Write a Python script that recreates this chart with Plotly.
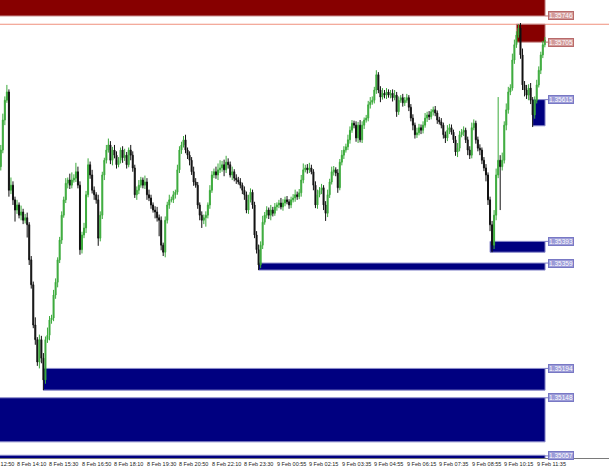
import plotly.graph_objects as go
import pandas as pd

# ---------------- data ----------------
closes = [
    1.35536, 1.35583, 1.35614, 1.35627, 1.35473, 1.35481, 1.35458, 1.35442, 1.35450, 1.35434,
    1.35439, 1.35426, 1.35430, 1.35419, 1.35364, 1.35325, 1.35262, 1.35239, 1.35204, 1.35239,
    1.35210, 1.35176, 1.35239, 1.35246, 1.35270, 1.35273, 1.35309, 1.35329, 1.35364, 1.35395,
    1.35434, 1.35458, 1.35484, 1.35489, 1.35481, 1.35489, 1.35492, 1.35502, 1.35481, 1.35380,
    1.35403, 1.35414, 1.35466, 1.35513, 1.35497, 1.35473, 1.35466, 1.35458, 1.35398, 1.35434,
    1.35497, 1.35520, 1.35536, 1.35544, 1.35520, 1.35536, 1.35528, 1.35513, 1.35520, 1.35536,
    1.35524, 1.35528, 1.35513, 1.35536, 1.35528, 1.35508, 1.35466, 1.35473, 1.35481, 1.35489,
    1.35481, 1.35486, 1.35466, 1.35461, 1.35450, 1.35442, 1.35439, 1.35430, 1.35426, 1.35387,
    1.35376, 1.35426, 1.35450, 1.35458, 1.35458, 1.35466, 1.35470, 1.35505, 1.35536, 1.35544,
    1.35552, 1.35536, 1.35528, 1.35520, 1.35502, 1.35486, 1.35481, 1.35450, 1.35434, 1.35426,
    1.35430, 1.35434, 1.35450, 1.35473, 1.35497, 1.35502, 1.35497, 1.35505, 1.35508, 1.35513,
    1.35505, 1.35517, 1.35513, 1.35497, 1.35502, 1.35492, 1.35489, 1.35486, 1.35481, 1.35473,
    1.35466, 1.35442, 1.35458, 1.35470, 1.35450, 1.35403, 1.35380, 1.35356, 1.35387, 1.35423,
    1.35434, 1.35442, 1.35434, 1.35442, 1.35437, 1.35447, 1.35450, 1.35453, 1.35447, 1.35453,
    1.35458, 1.35455, 1.35450, 1.35458, 1.35461, 1.35466, 1.35463, 1.35469, 1.35489, 1.35505,
    1.35508, 1.35505, 1.35508, 1.35502, 1.35481, 1.35450, 1.35466, 1.35473, 1.35477, 1.35450,
    1.35437, 1.35466, 1.35486, 1.35502, 1.35505, 1.35500, 1.35477, 1.35517, 1.35528, 1.35536,
    1.35541, 1.35552, 1.35567, 1.35578, 1.35575, 1.35555, 1.35575, 1.35552, 1.35575, 1.35583,
    1.35586, 1.35607, 1.35611, 1.35614, 1.35630, 1.35654, 1.35630, 1.35619, 1.35625, 1.35622,
    1.35627, 1.35622, 1.35625, 1.35618, 1.35622, 1.35596, 1.35614, 1.35618, 1.35610, 1.35614,
    1.35618, 1.35603, 1.35586, 1.35575, 1.35560, 1.35563, 1.35571, 1.35567, 1.35575, 1.35586,
    1.35591, 1.35588, 1.35596, 1.35599, 1.35594, 1.35583, 1.35580, 1.35575, 1.35560, 1.35555,
    1.35567, 1.35571, 1.35564, 1.35552, 1.35533, 1.35539, 1.35560, 1.35564, 1.35567, 1.35552,
    1.35536, 1.35528, 1.35571, 1.35578, 1.35552, 1.35539, 1.35536, 1.35520, 1.35508, 1.35497,
    1.35458, 1.35419, 1.35387, 1.35434, 1.35497, 1.35520, 1.35510, 1.35520, 1.35575, 1.35599,
    1.35627, 1.35633, 1.35677, 1.35701, 1.35716, 1.35727, 1.35685, 1.35638, 1.35630, 1.35622,
    1.35633, 1.35614, 1.35591, 1.35614, 1.35638, 1.35661, 1.35685, 1.35701, 1.35708,
]
first_open = 1.35510

# wick lengths in points (1 point = 0.00001)
upper_wick_pts = [
    8, 10, 6, 11, 4, 12, 6, 5, 8, 4, 10, 5, 6, 8, 4, 6, 5, 12, 4, 8,
    6, 8, 5, 12, 6, 5, 8, 6, 4, 5, 6, 5, 8, 4, 10, 12, 6, 14, 8, 6,
    5, 8, 6, 10, 5, 8, 6, 4, 8, 6, 5, 4, 8, 10, 6, 5, 8, 6, 5, 4,
    6, 10, 5, 4, 8, 6, 5, 6, 8, 5, 4, 10, 6, 8, 5, 4, 6, 8, 5, 6,
    4, 6, 5, 8, 5, 6, 4, 8, 6, 5, 6, 8, 4, 6, 5, 8, 6, 5, 4, 6,
    5, 6, 4, 8, 6, 5, 8, 10, 12, 6, 8, 10, 6, 5, 8, 4, 6, 5, 6, 4,
    6, 5, 8, 6, 4, 5, 6, 8, 6, 10, 5, 6, 4, 8, 5, 6, 4, 5, 8, 6,
    5, 6, 4, 5, 6, 8, 5, 6, 8, 10, 5, 6, 8, 5, 4, 6, 8, 5, 6, 4,
    6, 8, 5, 8, 6, 4, 6, 5, 8, 6, 5, 8, 6, 5, 4, 6, 5, 8, 6, 4,
    5, 6, 8, 6, 5, 7, 4, 6, 8, 5, 6, 4, 5, 6, 8, 5, 6, 4, 6, 5,
    6, 4, 5, 6, 4, 8, 6, 5, 6, 8, 5, 6, 4, 5, 6, 4, 5, 6, 4, 5,
    8, 6, 5, 4, 6, 8, 6, 5, 6, 4, 5, 6, 8, 6, 4, 5, 6, 4, 5, 6,
    4, 5, 6, 8, 10, 99, 8, 12, 6, 10, 8, 6, 10, 8, 6, 6, 8, 10, 6, 8,
    6, 8, 5, 6, 8, 6, 5, 6, 5,
]
lower_wick_pts = [
    6, 5, 8, 4, 10, 6, 8, 18, 6, 5, 8, 6, 5, 20, 8, 6, 5, 8, 6, 10,
    8, 16, 6, 5, 8, 6, 5, 6, 8, 5, 6, 4, 5, 8, 6, 5, 4, 6, 5, 8,
    6, 5, 8, 4, 6, 5, 8, 6, 12, 5, 6, 8, 5, 4, 6, 8, 5, 6, 4, 5,
    8, 5, 6, 4, 8, 6, 5, 8, 6, 4, 5, 6, 8, 5, 6, 4, 10, 6, 25, 8,
    6, 8, 5, 6, 4, 5, 6, 4, 5, 6, 4, 5, 6, 8, 5, 6, 4, 6, 8, 12,
    6, 14, 5, 6, 4, 5, 6, 8, 5, 6, 10, 5, 6, 4, 8, 5, 6, 4, 5, 6,
    8, 5, 6, 4, 6, 5, 6, 8, 5, 6, 4, 5, 6, 8, 5, 4, 6, 5, 4, 6,
    5, 4, 6, 5, 4, 6, 5, 4, 6, 5, 4, 6, 5, 4, 8, 5, 6, 4, 6, 8,
    12, 6, 5, 4, 6, 5, 8, 4, 5, 6, 4, 5, 6, 4, 5, 6, 8, 4, 5, 6,
    4, 5, 6, 4, 5, 6, 5, 8, 4, 5, 6, 4, 5, 6, 4, 8, 5, 4, 6, 5,
    4, 6, 5, 8, 6, 5, 4, 6, 5, 4, 6, 5, 4, 6, 5, 6, 4, 5, 6, 8,
    5, 6, 4, 5, 6, 8, 5, 4, 6, 5, 8, 6, 5, 4, 6, 5, 8, 6, 5, 10,
    8, 10, 11, 6, 8, 5, 68, 6, 5, 8, 6, 5, 4, 6, 5, 4, 6, 8, 10, 6,
    8, 6, 19, 6, 5, 4, 6, 5, 4,
]

first_bar_time = "2024-02-08 13:35"
missing_bar_time = "2024-02-09 00:00"   # rollover bar absent from the series

time_tick_labels = [
    "8 Feb 12:50", "8 Feb 14:10", "8 Feb 15:30", "8 Feb 16:50", "8 Feb 18:10",
    "8 Feb 19:30", "8 Feb 20:50", "8 Feb 22:10", "8 Feb 23:30", "9 Feb 00:55",
    "9 Feb 02:15", "9 Feb 03:35", "9 Feb 04:55", "9 Feb 06:15", "9 Feb 07:35",
    "9 Feb 08:55", "9 Feb 10:15", "9 Feb 11:35",
]

# supply / demand zones
zone_kind = ["supply", "supply", "demand", "demand", "demand", "demand", "demand", "demand"]
zone_low = [1.35746, 1.35705, 1.35574, 1.35376, 1.35348, 1.35160, 1.35079, 1.35050]
zone_high = [1.35800, 1.35733, 1.35615, 1.35393, 1.35359, 1.35194, 1.35148, 1.35058]
zone_start_bar = [-1, 254, 262, 241, 127, 21, -1, -1]
zone_label_price = [1.35746, 1.35705, 1.35615, 1.35393, 1.35359, 1.35194, 1.35148, 1.35057]

high_line_price = 1.35733

# ---------------- derived ----------------
n = min(len(closes), len(upper_wick_pts), len(lower_wick_pts))
closes = closes[:n]
opens = [first_open] + closes[:-1]
PT = 0.00001
highs = [max(o, c) + u * PT for o, c, u in zip(opens, closes, upper_wick_pts[:n])]
lows = [min(o, c) - l * PT for o, c, l in zip(opens, closes, lower_wick_pts[:n])]
idx = list(range(n))

t0 = pd.Timestamp(first_bar_time)
gap = pd.Timestamp(missing_bar_time)


def bar_index(ts):
    k = (ts - t0) / pd.Timedelta(minutes=5)
    if ts > gap:
        k -= 1
    return k


tick_idx = [bar_index(pd.Timestamp("2024-" + pd.to_datetime(s, format="%d %b %H:%M").strftime("%m-%d %H:%M")))
            for s in time_tick_labels]

X_RANGE = [-0.39, 299.6]
Y_RANGE = [1.350537, 1.35771]

colors = {"supply": "#870000", "demand": "#000080"}
edge = {"supply": "#C48484", "demand": "#8C8CCB"}
label_bg = {"supply": "#D29A9A", "demand": "#9C9CD8"}
label_border = {"supply": "#B86A6A", "demand": "#7878C4"}

fig = go.Figure()
fig.add_trace(go.Candlestick(
    x=idx, open=opens, high=highs, low=lows, close=closes,
    increasing=dict(line=dict(color="#3BAA3B", width=1), fillcolor="#3BAA3B"),
    decreasing=dict(line=dict(color="#111111", width=1), fillcolor="#111111"),
    whiskerwidth=0, hoverinfo="skip", showlegend=False,
))

zone_end = n - 1 + 0.1
label_x = n - 1 + 1.55
shapes = []
for k, lo, hi, st in zip(zone_kind, zone_low, zone_high, zone_start_bar):
    shapes.append(dict(type="rect", xref="x", yref="y", x0=st, x1=zone_end, y0=lo, y1=hi,
                       fillcolor=colors[k], line=dict(color=edge[k], width=1), layer="below"))
shapes.append(dict(type="line", xref="paper", yref="y", x0=0, x1=1, y0=high_line_price, y1=high_line_price,
                   line=dict(color="#F0907C", width=1), layer="below"))
for k, p in zip(zone_kind, zone_label_price):
    shapes.append(dict(type="line", xref="x", yref="y", x0=zone_end, x1=label_x, y0=p, y1=p,
                       line=dict(color=label_border[k], width=1)))

annotations = []
for k, p in zip(zone_kind, zone_label_price):
    annotations.append(dict(x=label_x, y=p, xref="x", yref="y", text=f"{p:.5f}", showarrow=False,
                            xanchor="left", yanchor="middle",
                            font=dict(family="Liberation Sans", size=6.5, color="white"),
                            bgcolor=label_bg[k], bordercolor=label_border[k], borderwidth=1, borderpad=0))
# time labels: placed in paper units converted from the bar index so that
# labels whose bar lies left of the visible window are still drawn (clipped)
for lab, ti in zip(time_tick_labels, tick_idx):
    xp = (ti - X_RANGE[0]) / (X_RANGE[1] - X_RANGE[0])
    annotations.append(dict(x=xp, y=0, xref="paper", yref="paper", text=lab, showarrow=False,
                            xanchor="left", yanchor="top", yshift=-1,
                            font=dict(family="Liberation Sans", size=5.5, color="#222222")))

fig.update_layout(
    width=609, height=470,
    margin=dict(l=0, r=0, t=0, b=12),
    paper_bgcolor="white", plot_bgcolor="white",
    shapes=shapes, annotations=annotations,
    xaxis=dict(range=X_RANGE, showgrid=False, zeroline=False, showticklabels=False,
               showline=True, linecolor="#7A7A7A", linewidth=1, rangeslider=dict(visible=False),
               fixedrange=True),
    yaxis=dict(range=Y_RANGE, visible=False, showgrid=False, fixedrange=True),
    hovermode=False,
)

fig.write_html(
    "out.html",
    config={"displayModeBar": False},
    post_script="document.body.style.margin='0';document.body.style.overflow='hidden';",
)
